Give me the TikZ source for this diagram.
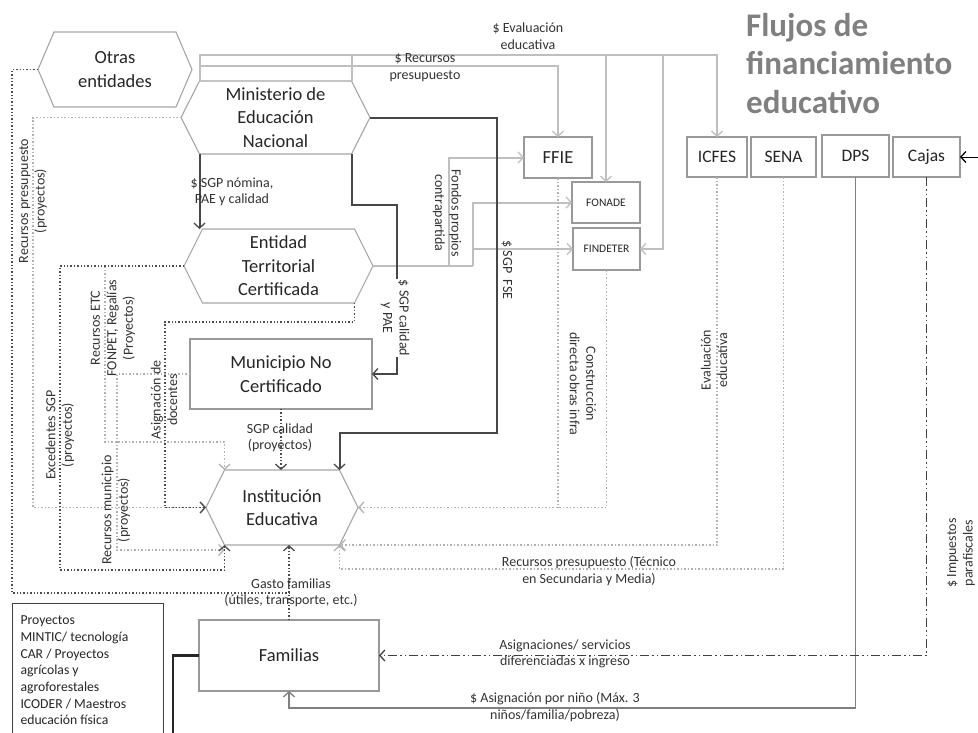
\documentclass[tikz,border=0pt]{standalone}
\usepackage{fontspec}
\setmainfont{Carlito}
\usetikzlibrary{arrows.meta,calc}

\newcommand\mybig{\fontsize{18.5}{23.5}\selectfont}
\newcommand\mybox{\fontsize{17.5}{21}\selectfont}
\newcommand\mytiny{\fontsize{11.5}{14}\selectfont}
\newcommand\mylab{\fontsize{14}{16.5}\selectfont}
\newcommand\myproy{\fontsize{13.7}{16.7}\selectfont}
\newcommand\mytitle{\fontsize{33}{38.5}\selectfont\bfseries}

\tikzset{
 hexbox/.style={rectangle,draw=none,inner sep=0pt,outer sep=0pt,align=center,font=\mybig,text=black!85},
 hexline/.style={draw=black!35,line width=1.1pt},
 rbox/.style={rectangle,draw=black!40,line width=1.1pt,inner sep=0pt,outer sep=0pt,align=center,text=black!85},
 arr/.style={-{Straight Barb[length=5pt,width=11pt,line width=1.3pt]}},
 gline/.style={draw=black!25,line width=2pt},
 dline/.style={draw=black!72,line width=2pt},
 dotdark/.style={draw=black!70,line width=1.4pt,dotted},
 dotlight/.style={draw=black!30,line width=1.5pt,dotted},
 dpsline/.style={draw=black!50,line width=1.6pt},
 dashdotline/.style={draw=black!75,line width=1.6pt,dash pattern=on 9pt off 3pt on 1.5pt off 3pt on 1.5pt off 3pt},
 lbl/.style={font=\mylab,text=black!80,align=center,inner sep=0pt},
}

\newcommand\hexnode[7]{%
 \node[hexbox,minimum width=#4pt,minimum height=#5pt] (#1) at (#2,#3) {#7};
 \coordinate (#1-nw) at ([xshift=#6pt]#1.north west);
 \coordinate (#1-sw) at ([xshift=#6pt]#1.south west);
 \coordinate (#1-ne) at ([xshift=-#6pt]#1.north east);
 \coordinate (#1-se) at ([xshift=-#6pt]#1.south east);
 \draw[hexline] (#1.west) -- (#1-nw) -- (#1-ne) -- (#1.east) -- (#1-se) -- (#1-sw) -- cycle;}

\begin{document}
\begin{tikzpicture}[x=1pt,y=-1pt]
\useasboundingbox (0,0) rectangle (978,732);
\fill[white] (0,0) rectangle (978,732);
\clip (0,0) rectangle (978,732);

% ---------- nodes ----------
\hexnode{otras}{115}{69.5}{154}{75}{16}{Otras\\entidades}
\hexnode{men}{275.5}{117.5}{189}{73}{18.5}{Ministerio de\\Educación\\Nacional}
\hexnode{etc}{278.5}{266}{189}{74}{18.5}{Entidad\\Territorial\\Certificada}
\hexnode{ie}{282}{507.5}{152}{75}{18.5}{Institución\\Educativa}

\node[rbox,font=\mybig,minimum width=182pt,minimum height=70pt] (mun) at (281,374) {Municipio No\\Certificado};
\node[rbox,font=\mybig,minimum width=180pt,minimum height=71pt] (fam) at (289,655.5) {Familias};
\node[rbox,font=\mybig,minimum width=68pt,minimum height=41pt] (ffie) at (558,157.5) {FFIE};
\node[rbox,font=\mytiny,minimum width=68pt,minimum height=41pt] (fonade) at (606,202.5) {FONADE};
\node[rbox,font=\mytiny,minimum width=67pt,minimum height=42pt] (findeter) at (606.5,249) {FINDETER};
\node[rbox,font=\mybox,minimum width=60pt,minimum height=40pt] (icfes) at (717,157) {ICFES};
\node[rbox,font=\mybox,minimum width=65pt,minimum height=40pt] (sena) at (783.5,157) {SENA};
\node[rbox,font=\mybox,minimum width=67pt,minimum height=42pt] (dps) at (855.5,156) {DPS};
\node[rbox,font=\mybox,minimum width=67pt,minimum height=40pt] (cajas) at (926.5,157) {Cajas};

\node[draw=black!75,line width=1pt,anchor=north west,minimum width=151pt,minimum height=134pt,
      text width=135pt,inner xsep=8pt,inner ysep=0pt,align=flush left,font=\myproy,text=black!85] (proy) at (12,603)
 {Proyectos\\MINTIC/ tecnología\\CAR / Proyectos\\agrícolas y\\agroforestales\\ICODER / Maestros\\educación física};

\node[anchor=north west,inner sep=0pt,align=left,font=\mytitle,text=black!50] (title) at (746,13)
 {Flujos de\\financiamiento\\educativo};

% ---------- helper coordinates ----------
\coordinate (ev) at (0,55);
\coordinate (rp) at (0,66);
\coordinate (fd) at (663,55);
\coordinate (f1) at (449,266);
\coordinate (f2) at (473,266);
\coordinate (sny) at (0,569);
\coordinate (dy) at (0,708);
\coordinate (xa) at (33,0);
\coordinate (xb) at (12,0);
\coordinate (yb) at (0,593);
\coordinate (xc) at (60,0);
\coordinate (yc) at (0,570);
\coordinate (xd) at (105,0);
\coordinate (yd) at (0,442);
\coordinate (xe) at (117,0);
\coordinate (ye) at (0,550);
\coordinate (xf) at (165,0);
\coordinate (yf) at (0,322);
\coordinate (pae1) at (0,205);
\coordinate (pae2) at (397,0);
\coordinate (fse1) at (497,0);
\coordinate (fse2) at (0,433);
\coordinate (blk) at (173,0);
\coordinate (bot) at (0,745);
\coordinate (cajin) at (985,157);

% ---------- gray solid connectors ----------
\draw[gline,arr] (men-nw) |- (icfes.north |- ev) -- (icfes.north);
\draw[gline,arr] (fonade.north |- ev) -- (fonade.north);
\draw[gline,arr] (fd) |- (findeter.east);
\draw[gline] (men-ne) -- (men-ne |- ev);
\draw[gline,arr] (men-nw |- rp) -| (ffie.north);
\draw[gline] (etc.east) -- (f2);
\draw[gline,arr] (f1) |- (ffie.west);
\draw[gline,arr] (f2) |- (fonade.west);
\draw[gline,arr] (f2 |- findeter.west) -- (findeter.west);

% ---------- dotted light connectors ----------
\draw[dotlight] (ffie.south) -- (ffie.south |- ie.east);
\draw[dotlight,arr] (findeter.south) |- (ie.east);
\draw[dotlight,arr] (icfes.south) |- (ie-se);
\draw[dotlight,arr] (sena.south) |- (ie-se |- sny) -- (ie-se);
\draw[dotlight,arr] (men.west) -| (xa |- ie.west) -- (ie.west);
\draw[dotlight,arr] (xd |- etc.west) |- (ie-nw |- yd) -- (ie-nw);
\draw[dotlight,arr] (mun.west) -| (xe |- ye) -- (ie-sw |- ye);

% ---------- dotted dark connectors ----------
\draw[dotdark] (otras.west) -| (xb |- yb) -- (fam.north |- yb);
\draw[dotdark,arr] (etc.west) -| (xc |- yc) -| (ie-sw);
\draw[dotdark,arr] (etc-se) |- (xf |- yf) |- (ie.west);
\draw[dotdark,arr] (mun.south) -- (mun.south |- ie.north);
\draw[dotdark,arr] (fam.north) -- (fam.north |- ie.south);

% ---------- other connectors ----------
\draw[dpsline,arr] (dps.south) |- (fam.south |- dy) -- (fam.south);
\draw[dashdotline,arr] (cajas.south) |- (fam.east);
\draw[black,line width=1pt,arr] (cajin) -- (cajas.east);
\draw[black!85,line width=2.2pt] (fam.west) -| (blk |- bot);

% ---------- dark solid connectors ----------
\draw[dline,arr] (men-sw) -- (men-sw |- etc.north);
\draw[dline,arr] (men-se) |- (pae2 |- pae1) |- (mun.east);
\draw[dline,arr] (men.east) -| (fse1 |- fse2) -| (ie-ne);

% ---------- labels ----------
\node[lbl] (l1) at (528,36) {\$ Evaluación\\educativa};
\node[lbl] (l2) at (425,67.5) {\$ Recursos\\presupuesto};
\node[lbl] (l3) at (232,192) {\$ SGP nómina,\\PAE y calidad};
\node[lbl,rotate=-90] (l4) at (447,213) {Fondos propios\\contrapartida};
\node[lbl,rotate=-90,fill=white,inner sep=1pt] (l5) at (395,318) {\$ SGP calidad\\y PAE};
\node[lbl,rotate=-90] (l6) at (507,270) {\$ SGP\ \ FSE};
\node[lbl,rotate=-90] (l7) at (583,384) {Construcción\\directa obras infra};
\node[lbl,rotate=90] (l8) at (714,360) {Evaluación\\educativa};
\node[lbl] (l9) at (589,571) {Recursos presupuesto (Técnico\\en Secundaria y Media)};
\node[lbl,rotate=90] (l10) at (961,553) {\$ Impuestos\\parafiscales};
\node[lbl] (l11) at (565,654) {Asignaciones/ servicios\\diferenciadas x ingreso};
\node[lbl] (l12) at (555,707) {\$ Asignación por niño (Máx. 3\\niños/familia/pobreza)};
\node[lbl] (l13) at (291,593) {Gasto familias\\(útiles, transporte, etc.)};
\node[lbl] (l14) at (280,438) {SGP calidad\\(proyectos)};
\node[lbl,rotate=90] (l15) at (33,201) {Recursos presupuesto\\(proyectos)};
\node[lbl,rotate=90] (l16) at (60,435) {Excedentes SGP\\(proyectos)};
\node[lbl,rotate=90] (l17) at (113,328) {Recursos ETC\\FONPET, Regalías\\(Proyectos)};
\node[lbl,rotate=90] (l18) at (116,510) {Recursos municipio\\(proyectos)};
\node[lbl,rotate=90] (l19) at (164,400) {Asignación de\\docentes};
\end{tikzpicture}
\end{document}
